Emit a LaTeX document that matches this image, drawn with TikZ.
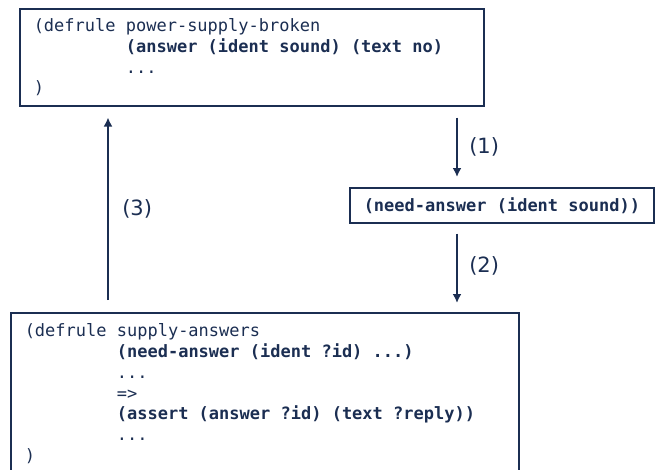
\documentclass[tikz,border=0pt]{standalone}
\usepackage{fontspec}
\setmainfont{DejaVu Sans}
\setmonofont{DejaVu Sans Mono}
\usetikzlibrary{arrows.meta}
\definecolor{navy}{HTML}{1B2E52}
% one monospaced character cell, and the nine-cell indent
\newcommand{\blank}{\hspace*{\fontcharwd\font`a}}
\newcommand{\ind}{\hspace*{9\fontcharwd\font`a}}
\tikzstyle{codebox}=[draw=navy,line width=1.5pt,anchor=north west,align=left,
  inner xsep=14pt,inner ysep=9pt,text=navy,
  font=\ttfamily\fontsize{17}{20.8}\selectfont]
\tikzstyle{flow} = [draw=navy,line width=2.5pt,-{Latex[length=9pt,width=9pt]}]
\tikzstyle{step label}=[right,text=navy,font=\fontsize{21}{24}\selectfont,inner sep=0pt]

\begin{document}
\begin{tikzpicture}[x=1pt,y=-1pt]
    \useasboundingbox (0,0) rectangle (655,469);
    % the two rules and the fact between them
    \node[codebox,minimum width=464pt,minimum height=97pt,text width=436pt] (broken) at (19,8)
        {(defrule\blank power-supply-broken\\
         \ind\textbf{(answer\blank(ident\blank sound)\blank(text\blank no)}\\
         \ind...\\
         )};
    \node[codebox,minimum width=304pt,minimum height=35pt,inner ysep=4pt,text width=276pt] (need) at (349,187)
        {\textbf{(need-answer\blank(ident\blank sound))}};
    \node[codebox,minimum width=508pt,inner ysep=11pt,text width=480pt] (supply) at (10,312)
        {(defrule\blank supply-answers\\
         \ind\textbf{(need-answer\blank(ident\blank ?id)\blank...)}\\
         \ind...\\
         \ind=>\\
         \ind\textbf{(assert\blank(answer\blank ?id)\blank(text\blank ?reply))}\\
         \ind...\\
         )};
    % where the arrows run
    \coordinate (down) at (457,0);
    \coordinate (up) at (108,0);
    % arrows with their step numbers
    \path[flow,shorten <=11pt,shorten >=10pt] (broken.south -| down) -- node[step label,xshift=11pt] {(1)} (need.north -| down);
    \path[flow,shorten <=10pt,shorten >=9pt] (need.south -| down) -- node[step label,xshift=11pt,yshift=2pt] {(2)} (supply.north -| down);
    \path[flow,shorten <=12pt,shorten >=11pt] (supply.north -| up) -- node[step label,xshift=13pt] {(3)} (broken.south -| up);
\end{tikzpicture}
\end{document}
